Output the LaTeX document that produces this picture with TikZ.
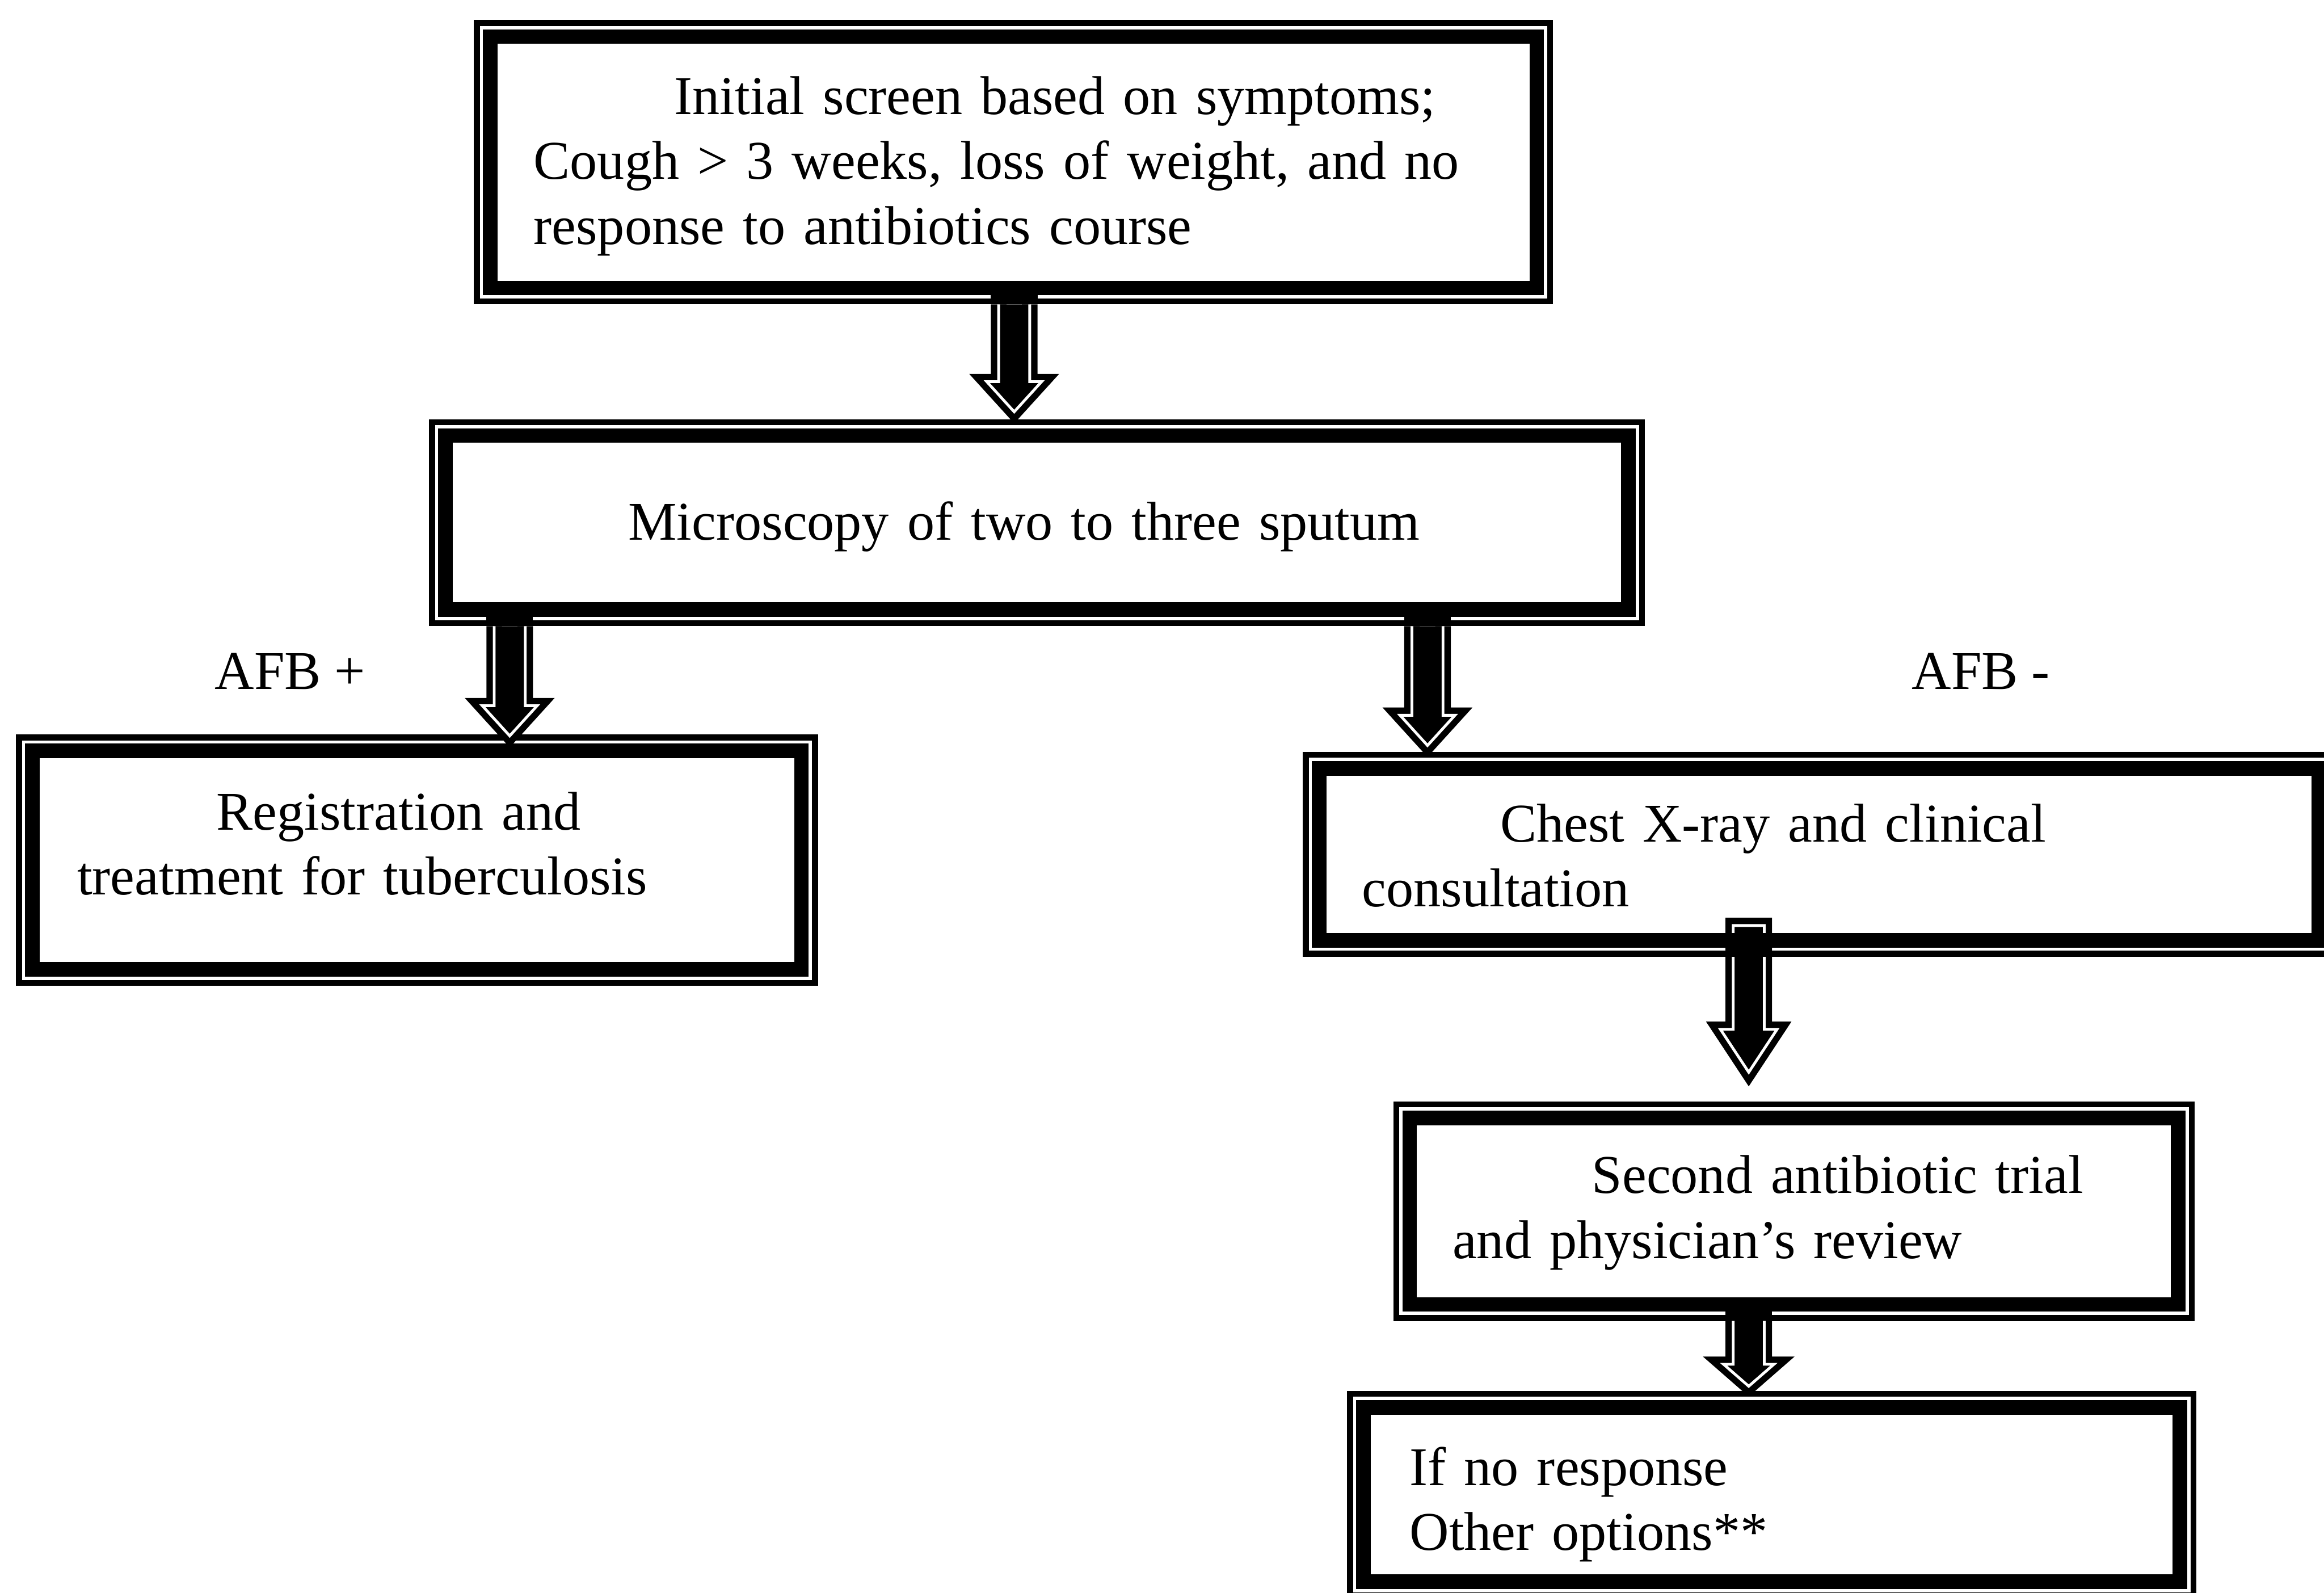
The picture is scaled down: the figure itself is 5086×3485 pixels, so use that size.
\documentclass[tikz,border=0pt]{standalone}
\usepackage{fontspec}
\setmainfont{Liberation Serif}
\usetikzlibrary{calc}

\tikzset{
  thickbox/.style={draw=black, line width=6.4pt, rectangle, inner sep=0pt, outer sep=0pt},
  thinrule/.style={draw=black, line width=2.6pt},
  arrowrule/.style={draw=black, line width=2.8pt, double=white, double distance=1.2pt, line join=miter},
  boxtext/.style={anchor=base west, inner sep=0pt, outer sep=0pt, align=left,
    font=\fontsize{23.9pt}{28.4pt}\selectfont},
}

% box with a thin outer rule and a thick inner frame: name, left, top, right, bottom
\newcommand\flowbox[5]{%
  \node[thickbox, minimum width={(#4-#2-72)*0.2pt}, minimum height={(#5-#3-72)*0.2pt}]
    (#1) at ({(#2+#4)/2},{-(#3+#5)/2}) {};
  \draw[thinrule] ([shift={(-29.5,29.5)}]#1.north west) rectangle ([shift={(29.5,-29.5)}]#1.south east);
}

% outlined block arrow leaving the bottom frame of a box:
% source, target, x, head half-width, head height, tip gap above target frame
\newcommand\blockarrow[6]{%
  \coordinate (S) at (#3,0 |- #1.south);
  \coordinate (D) at (#3,0 |- #2.north);
  \fill ($(S)+(-51,-16)$) rectangle ($(S)+(51,-36)$);
  \fill ($(S)+(-34,-36)$) -- ($(D)+(-34,#6+#5)$) -- ($(D)+(-#4,#6+#5)$) -- ($(D)+(0,#6)$)
    -- ($(D)+(#4,#6+#5)$) -- ($(D)+(34,#6+#5)$) -- ($(S)+(34,-36)$) -- cycle;
  \draw[arrowrule] ($(S)+(-34,-36)$) -- ($(D)+(-34,#6+#5)$) -- ($(D)+(-#4,#6+#5)$) -- ($(D)+(0,#6)$)
    -- ($(D)+(#4,#6+#5)$) -- ($(D)+(34,#6+#5)$) -- ($(S)+(34,-36)$);
}

% closed block arrow starting inside the source box
\newcommand\blockarrowin[6]{%
  \coordinate (S) at (#3,0 |- #1.south);
  \coordinate (D) at (#3,0 |- #2.north);
  \path[fill=black, arrowrule] ($(S)+(-34,32)$) -- ($(D)+(-34,#6+#5)$) -- ($(D)+(-#4,#6+#5)$) -- ($(D)+(0,#6)$)
    -- ($(D)+(#4,#6+#5)$) -- ($(D)+(34,#6+#5)$) -- ($(S)+(34,32)$) -- cycle;
  \fill ($(S)+(-51,16)$) rectangle ($(S)+(51,-36)$);
}

\begin{document}
\begin{tikzpicture}[x=0.2pt,y=0.2pt]
\useasboundingbox (0,0) rectangle (5086,-3485);
\fill[white] (0,0) rectangle (5086,-3485);
\clip (0,0) rectangle (5086,-3485);

% boxes
\flowbox{init}{1037}{44}{3399}{666}
\flowbox{micro}{939}{917}{3600}{1370}
\flowbox{reg}{35}{1607}{1790}{2157}
\flowbox{chest}{2851}{1645}{5110}{2093}
\flowbox{second}{3049}{2410}{4803}{2890}
\flowbox{other}{2948}{3043}{4807}{3497}

% arrows
\blockarrow{init}{micro}{2219.5}{60}{66}{52}
\blockarrow{micro}{reg}{1115.5}{60}{66}{33}
\blockarrow{micro}{chest}{3124}{60}{66}{50}
\blockarrowin{chest}{second}{3827}{62}{94}{100}
\blockarrow{second}{other}{3827}{55}{48}{46}

% texts
\node[boxtext, text width=420pt] (init-t) at (1168,-250)
  {\hspace*{61.6pt}Initial screen based on symptoms;\\Cough > 3 weeks, loss of weight, and no\\response to antibiotics course};
\node[boxtext, text width=360pt] (micro-t) at (1375,-1181) {Microscopy of two to three sputum};
\node[boxtext, text width=260pt] (reg-t) at (169,-1816)
  {\hspace*{61pt}Registration and\\treatment for tuberculosis};
\node[boxtext, text width=310pt] (chest-t) at (2981,-1842)
  {\hspace*{60.4pt}Chest X-ray and clinical\\consultation};
\node[boxtext, text width=300pt] (second-t) at (3179,-2611)
  {\hspace*{61pt}Second antibiotic trial\\and physician’s review};
\node[boxtext, text width=240pt] (other-t) at (3085,-3250) {If no response\\Other options**};
\node[boxtext] (afb-pos) at (470,-1508) {AFB +};
\node[boxtext] (afb-neg) at (4184,-1508) {AFB -};
\end{tikzpicture}
\end{document}
